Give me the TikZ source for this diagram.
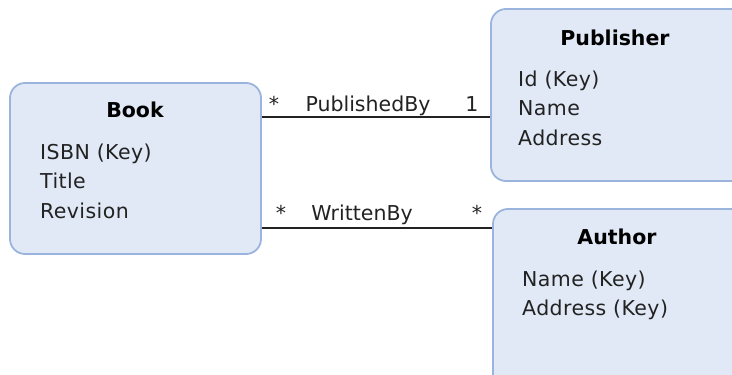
\documentclass[tikz,border=0pt]{standalone}
\usepackage{fontspec}
\setmainfont{DejaVu Sans}
\definecolor{boxfill}{HTML}{E1E9F6}
\definecolor{boxline}{HTML}{9BB4DE}
\definecolor{txt}{HTML}{222222}
\begin{document}
\begin{tikzpicture}[x=1pt,y=-1pt,
  entity/.style={draw=boxline,fill=boxfill,line width=1.8pt,rounded corners=15pt,inner sep=0pt},
  ttl/.style={anchor=base,font=\fontsize{20.5}{24}\selectfont\bfseries,text=black,inner sep=0pt},
  attr/.style={anchor=base west,font=\fontsize{20.5}{24}\selectfont\addfontfeatures{LetterSpace=2}\selectfont,text=txt,inner sep=0pt},
  lbl/.style={anchor=base,font=\fontsize{20.5}{24}\selectfont,text=txt,inner sep=0pt},
  conn/.style={draw=txt,line width=2pt}]
\useasboundingbox (0,0) rectangle (732,375);
\clip (0,0) rectangle (732,375);
% entities
\node[entity,minimum width=251pt,minimum height=171pt] (book) at (135.5,168.5) {};
\node[entity,minimum width=261pt,minimum height=172pt] (pub) at (621.5,95) {};
\node[entity,minimum width=259pt,minimum height=186pt] (auth) at (622.5,302) {};
% Book text
\node[ttl] (bookt) at (135,117) {Book};
\node[attr] (b1) at (40,159) {ISBN (Key)};
\node[attr] (b2) at (40,188) {Title};
\node[attr] (b3) at (40,218) {Revision};
% Publisher text
\node[ttl] (pubt) at (615,45) {Publisher};
\node[attr] (p1) at (518,86) {Id (Key)};
\node[attr] (p2) at (518,115) {Name};
\node[attr] (p3) at (518,145) {Address};
% Author text
\node[ttl] (autht) at (617,244) {Author};
\node[attr] (a1) at (522,286) {Name (Key)};
\node[attr] (a2) at (522,315) {Address (Key)};
% connectors
\coordinate (pb) at (0,117);
\coordinate (wb) at (0,228);
\draw[conn] (book.east |- pb) -- (pub.west |- pb);
\draw[conn] (book.east |- wb) -- (auth.west |- wb);
% labels
\node[lbl] (pbs) at (274,111) {*};
\node[lbl] (pbn) at (368,111) {PublishedBy};
\node[lbl] (pb1) at (472,111) {1};
\node[lbl] (wbs) at (281,220) {*};
\node[lbl] (wbn) at (362,220) {WrittenBy};
\node[lbl] (wbs2) at (477,220) {*};
\end{tikzpicture}
\end{document}
